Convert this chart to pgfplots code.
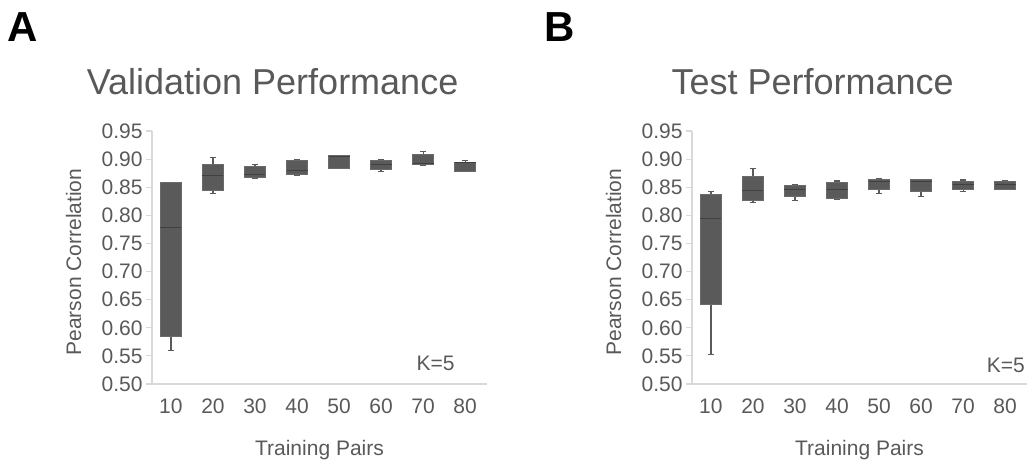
\documentclass[border=0pt]{standalone}
\usepackage{fontspec}
\setmainfont{Liberation Sans}
\usepackage{pgfplots}
\pgfplotsset{compat=1.18}
\usepgfplotslibrary{statistics}
\definecolor{txtgray}{HTML}{595959}
\definecolor{axgray}{HTML}{D9D9D9}
\definecolor{boxfill}{HTML}{5A5A5A}
\definecolor{boxedge}{HTML}{6A6A6A}
\definecolor{meddark}{HTML}{404040}
\pgfplotsset{
  panel/.style={
    scale only axis, width=335pt, height=253pt,
    xmin=0.55, xmax=8.52, ymin=0.5, ymax=0.95,
    axis x line*=bottom, axis y line*=left,
    axis line style={draw=axgray, line width=1.5pt},
    xtick={1,2,3,4,5,6,7,8},
    xticklabels={10,20,30,40,50,60,70,80},
    ytick={0.50,0.55,0.60,0.65,0.70,0.75,0.80,0.85,0.90,0.95},
    yticklabel style={/pgf/number format/.cd, fixed, fixed zerofill, precision=2},
    /pgf/number format/assume math mode=true,
    tick label style={font=\fontsize{21}{21}\selectfont, text=txtgray},
    x tick label style={yshift=-5pt},
    tick align=outside,
    major tick length=6pt,
    xtick style={draw=none},
    ytick style={draw=axgray, line width=1.2pt},
    label style={font=\fontsize{21}{21}\selectfont, text=txtgray},
    title style={font=\fontsize{36}{36}\selectfont, text=txtgray},
    xlabel={Training Pairs},
    ylabel={Pearson Correlation},
    xlabel style={at={(axis description cs:0.5,-0.261)}, anchor=center},
    ylabel style={at={(axis description cs:-0.234,0.482)}, anchor=center, rotate=0},
    title style={at={(axis description cs:0.36,1.1225)}, anchor=base},
    boxplot/draw direction=y,
    boxplot/box extend=0.5,
    boxplot/whisker extend=0.15,
    boxplot/every median/.style={draw=meddark, line width=1pt},
    boxplot/every whisker/.style={draw=boxfill, line width=1.2pt},
    clip=false,
  },
  bx/.style={fill=boxfill, draw=boxedge, line width=0.8pt, solid},
}
\begin{document}
\begin{tikzpicture}
\path[use as bounding box] (0pt,0pt) rectangle (1029pt,460pt);
\node[anchor=base west, font=\fontsize{42}{42}\selectfont\bfseries, inner sep=0pt] at (7pt,418pt) {A};
\node[anchor=base west, font=\fontsize{42}{42}\selectfont\bfseries, inner sep=0pt] at (544pt,418pt) {B};

\begin{axis}[panel, at={(152pt,76pt)}, anchor=south west, title={Validation Performance}]
\addplot[bx, boxplot prepared={draw position=1, lower whisker=0.559, lower quartile=0.585, median=0.779, upper quartile=0.859, upper whisker=0.859}] coordinates {};
\addplot[bx, boxplot prepared={draw position=2, lower whisker=0.839, lower quartile=0.844, median=0.871, upper quartile=0.891, upper whisker=0.903}] coordinates {};
\addplot[bx, boxplot prepared={draw position=3, lower whisker=0.865, lower quartile=0.867, median=0.872, upper quartile=0.887, upper whisker=0.890}] coordinates {};
\addplot[bx, boxplot prepared={draw position=4, lower whisker=0.871, lower quartile=0.873, median=0.879, upper quartile=0.898, upper whisker=0.900}] coordinates {};
\addplot[bx, boxplot prepared={draw position=5, lower whisker=0.883, lower quartile=0.883, median=0.904, upper quartile=0.906, upper whisker=0.906}] coordinates {};
\addplot[bx, boxplot prepared={draw position=6, lower whisker=0.878, lower quartile=0.881, median=0.890, upper quartile=0.898, upper whisker=0.900}] coordinates {};
\addplot[bx, boxplot prepared={draw position=7, lower whisker=0.889, lower quartile=0.891, median=0.892, upper quartile=0.909, upper whisker=0.913}] coordinates {};
\addplot[bx, boxplot prepared={draw position=8, lower whisker=0.878, lower quartile=0.878, median=0.894, upper quartile=0.895, upper whisker=0.897}] coordinates {};
\node[anchor=base east, inner sep=0pt, font=\fontsize{21}{21}\selectfont, text=txtgray] at (axis description cs:0.904,0.055) {K=5};
\end{axis}

\begin{axis}[panel, at={(692pt,76pt)}, anchor=south west, title={Test Performance}]
\addplot[bx, boxplot prepared={draw position=1, lower whisker=0.553, lower quartile=0.642, median=0.795, upper quartile=0.838, upper whisker=0.843}] coordinates {};
\addplot[bx, boxplot prepared={draw position=2, lower whisker=0.823, lower quartile=0.826, median=0.845, upper quartile=0.869, upper whisker=0.884}] coordinates {};
\addplot[bx, boxplot prepared={draw position=3, lower whisker=0.826, lower quartile=0.833, median=0.846, upper quartile=0.853, upper whisker=0.855}] coordinates {};
\addplot[bx, boxplot prepared={draw position=4, lower whisker=0.829, lower quartile=0.830, median=0.846, upper quartile=0.858, upper whisker=0.861}] coordinates {};
\addplot[bx, boxplot prepared={draw position=5, lower whisker=0.839, lower quartile=0.847, median=0.860, upper quartile=0.864, upper whisker=0.866}] coordinates {};
\addplot[bx, boxplot prepared={draw position=6, lower whisker=0.834, lower quartile=0.843, median=0.860, upper quartile=0.864, upper whisker=0.864}] coordinates {};
\addplot[bx, boxplot prepared={draw position=7, lower whisker=0.842, lower quartile=0.847, median=0.855, upper quartile=0.861, upper whisker=0.863}] coordinates {};
\addplot[bx, boxplot prepared={draw position=8, lower whisker=0.847, lower quartile=0.847, median=0.855, upper quartile=0.861, upper whisker=0.861}] coordinates {};
\node[anchor=base east, inner sep=0pt, font=\fontsize{21}{21}\selectfont, text=txtgray] at (axis description cs:0.994,0.047) {K=5};
\end{axis}
\end{tikzpicture}
\end{document}
